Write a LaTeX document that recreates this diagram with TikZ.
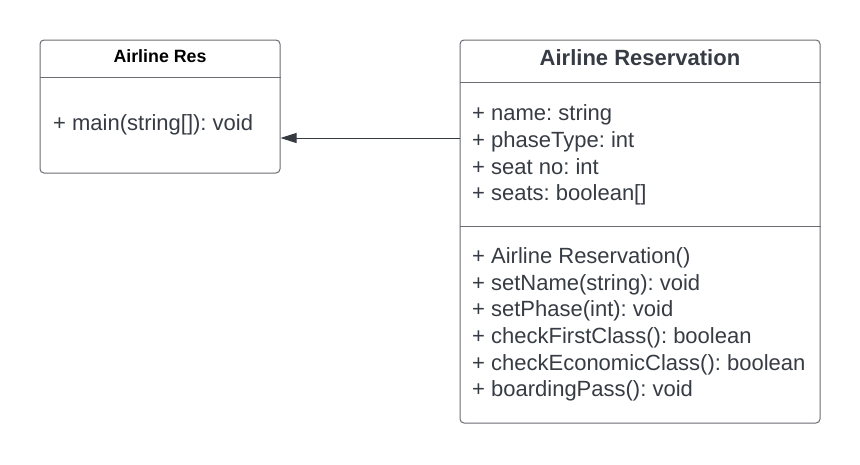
\documentclass[tikz,border=0pt]{standalone}
\usepackage{fontspec}
\setmainfont{Liberation Sans}
\usetikzlibrary{arrows.meta}
\definecolor{txt}{HTML}{373C44}
\definecolor{edge}{HTML}{6A6D72}
\definecolor{conn}{HTML}{363B42}
\frenchspacing
\begin{document}
\begin{tikzpicture}[x=1pt,y=-1pt,
  classbox/.style={draw=edge,line width=1pt,rounded corners=4pt,fill=white,inner sep=0pt},
  sep/.style={draw=edge,line width=1pt},
  member/.style={anchor=base west,inner sep=0pt,text=txt,font=\fontsize{22}{26}\selectfont},
  title/.style={anchor=base,inner sep=0pt,text=txt,font=\bfseries\fontsize{22}{26}\selectfont},
  stitle/.style={anchor=base,inner sep=0pt,text=black,font=\bfseries\fontsize{17.8}{21}\selectfont},
  conn/.style={draw=conn,line width=1pt,-{Triangle[length=16pt,width=10pt]}}]
\useasboundingbox[fill=white] (0,0) rectangle (860,464);
% left class
\node[classbox,minimum width=240pt,minimum height=133pt] (lres) at (160,106.5) {};
\draw[sep] (lres.west |- 0,77) -- (lres.east |- 0,77);
\node[stitle] (ltitle) at (160,62.3) {Airline Res};
\node[member] (lm1) at (53,130) {+ main(string[]): void};
% right class
\node[classbox,minimum width=360pt,minimum height=383pt] (rres) at (640,231.5) {};
\draw[sep] (rres.west |- 0,82) -- (rres.east |- 0,82);
\draw[sep] (rres.west |- 0,226) -- (rres.east |- 0,226);
\node[title] (rtitle) at (640,65) {Airline Reservation};
\node[member] (a1) at (472,120.7) {+ name: string};
\node[member] (a2) at (472,147.4) {+ phaseType: int};
\node[member] (a3) at (472,174.1) {+ seat no: int};
\node[member] (a4) at (472,200.8) {+ seats: boolean[]};
\node[member] (m1) at (472,263.2) {+ Airline Reservation()};
\node[member] (m2) at (472,290) {+ setName(string): void};
\node[member] (m3) at (472,316.6) {+ setPhase(int): void};
\node[member] (m4) at (472,343.3) {+ checkFirstClass(): boolean};
\node[member] (m5) at (472,370) {+ checkEconomicClass(): boolean};
\node[member] (m6) at (472,396.7) {+ boardingPass(): void};
% connector
\draw[conn] (rres.west |- 0,138) -- (lres.east |- 0,138);
\end{tikzpicture}
\end{document}
